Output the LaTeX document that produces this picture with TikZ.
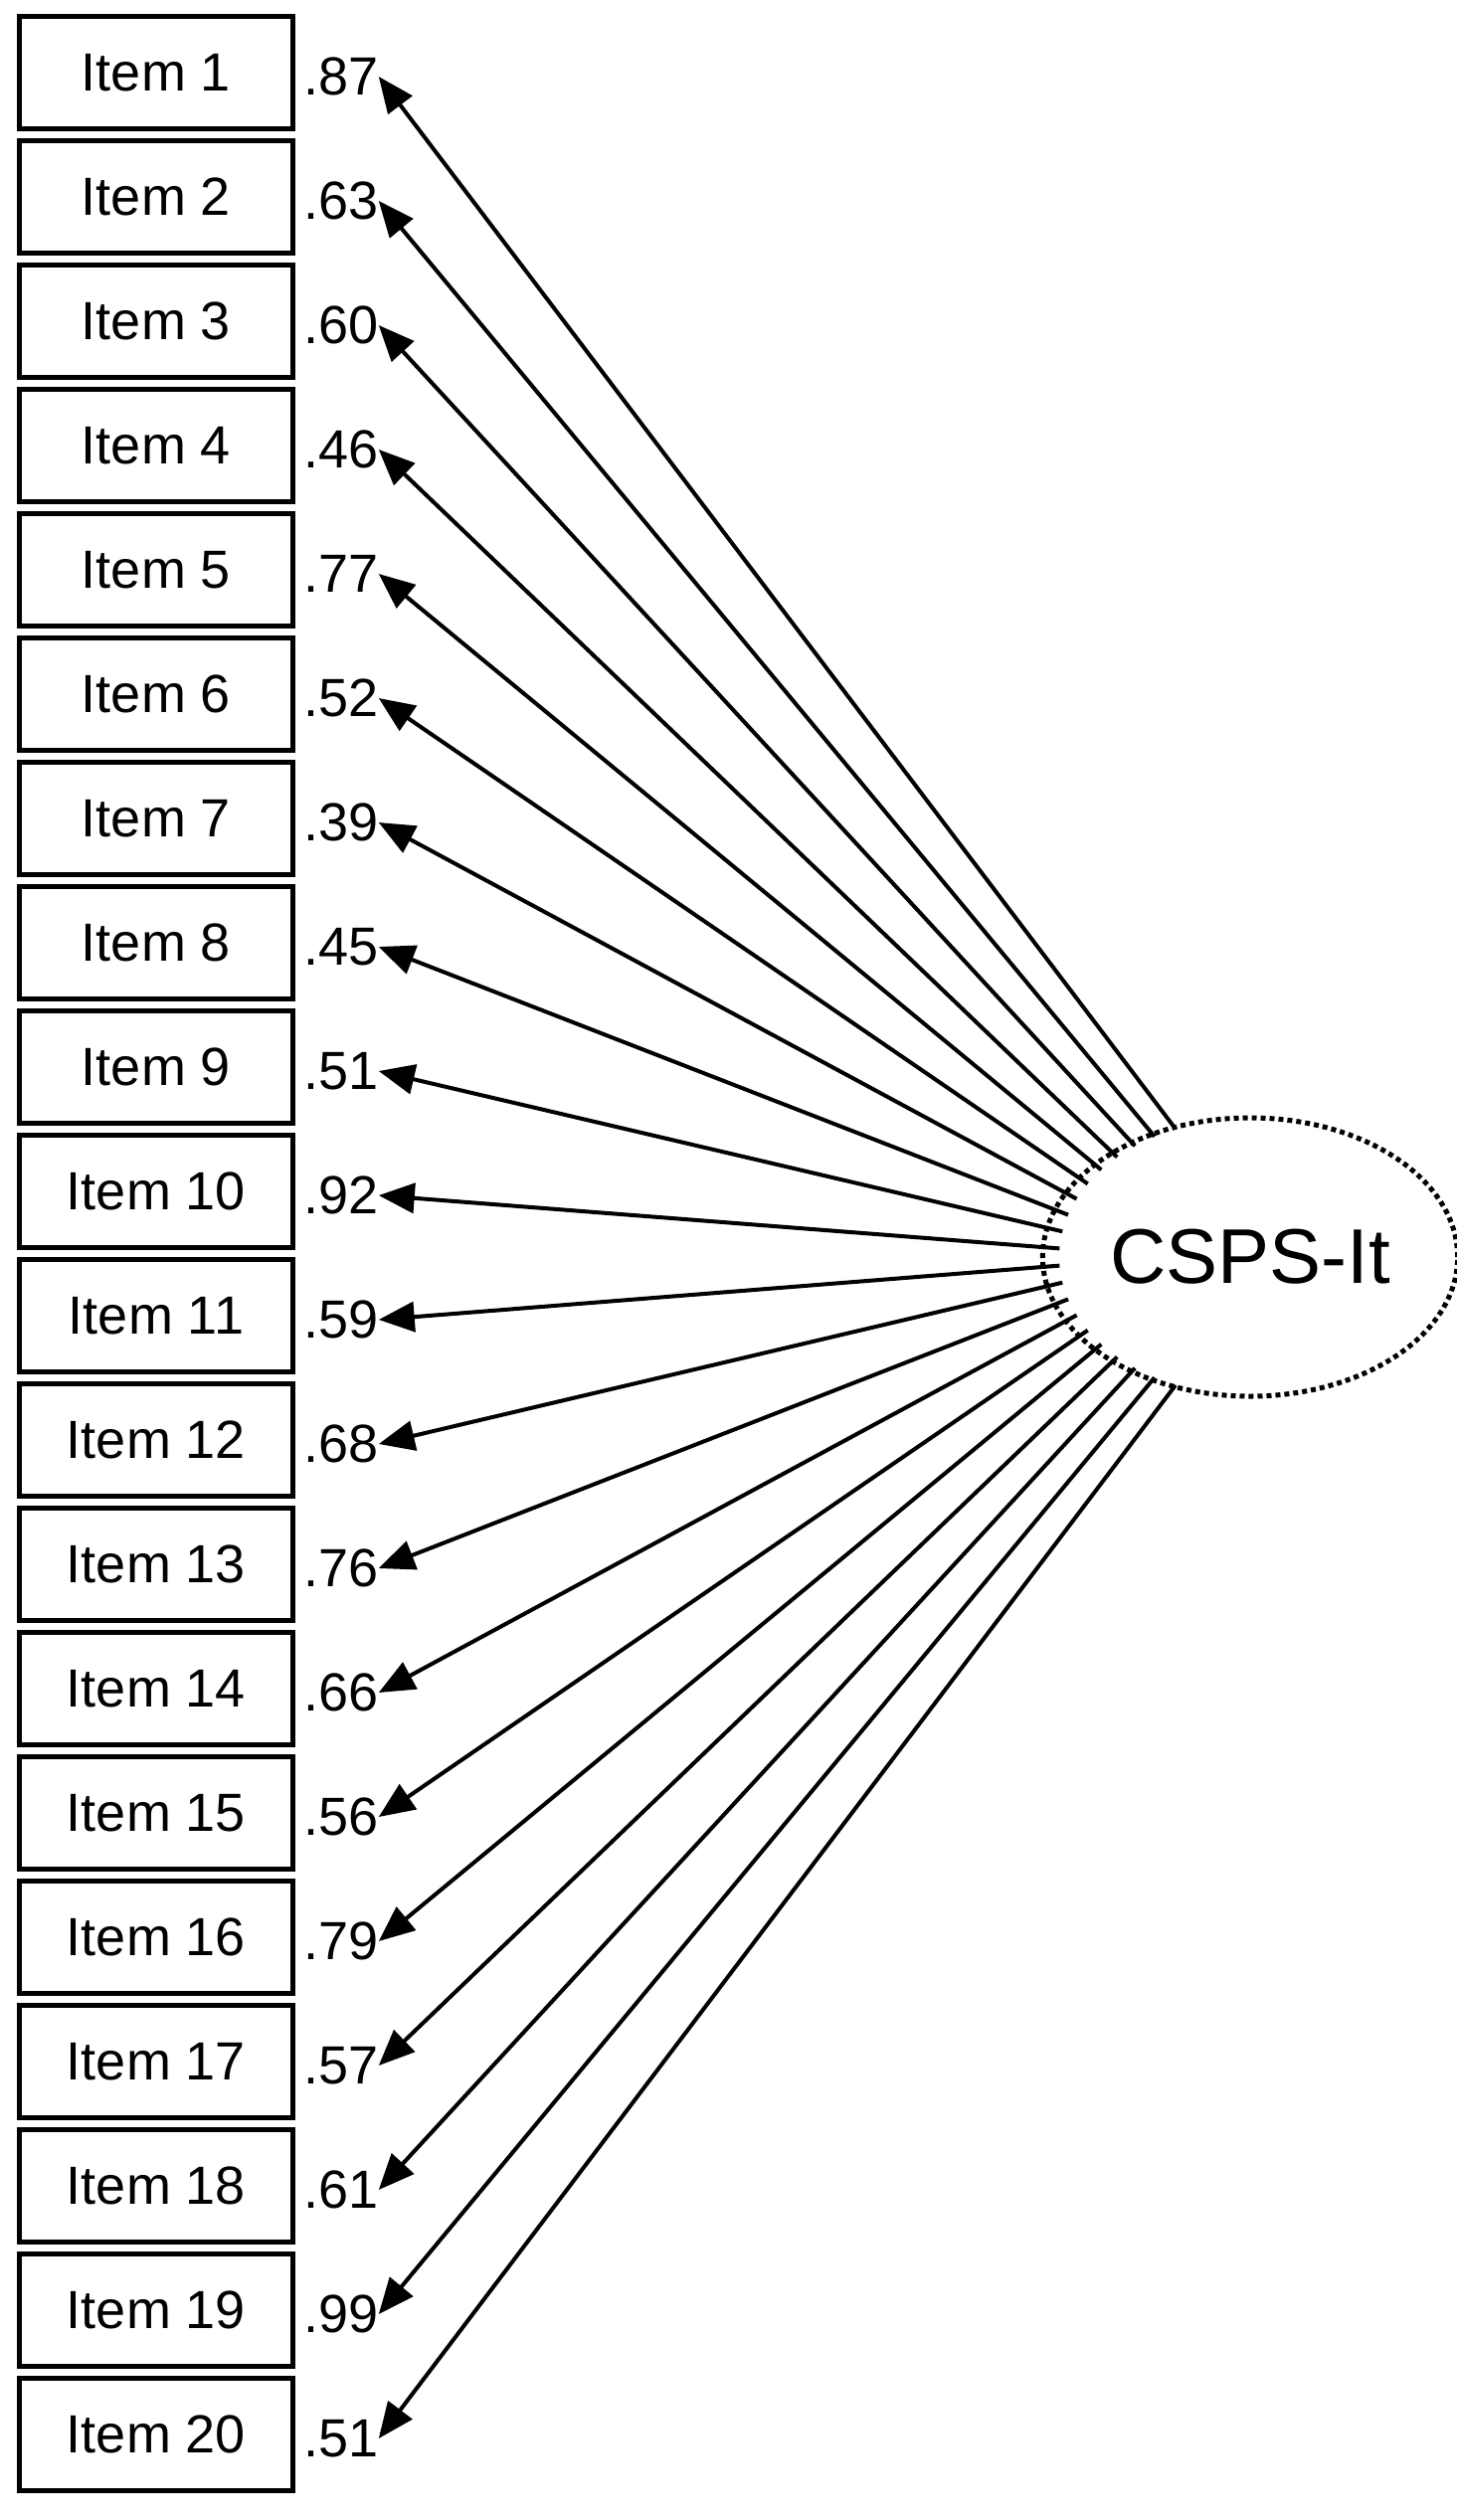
\documentclass[tikz,border=0pt]{standalone}
\usepackage{fontspec}
\setmainfont{Liberation Sans}
\usetikzlibrary{positioning,arrows.meta,shapes.geometric,calc}

\begin{document}
\begin{tikzpicture}[x=1pt,y=1pt,
    item/.style={draw,line width=2.4pt,minimum width=137.5pt,minimum height=56.5pt,inner sep=0pt,font=\fontsize{27}{30}\selectfont},
    load/.style={inner sep=0pt,anchor=west,font=\fontsize{27}{30}\selectfont},
    latent/.style={draw,ellipse,dotted,line width=2.5pt,minimum width=192pt,minimum height=140pt,font=\fontsize{39}{44}\selectfont},
    loading/.style={-{Triangle[length=18pt,width=15pt]},line width=2pt}]
    \useasboundingbox (0,0) rectangle (732.5,-1267);
    \node[latent] (csps) at (628.5,-632) {CSPS-It};
    \foreach \i/\v in {1/.87,2/.63,3/.60,4/.46,5/.77,6/.52,7/.39,8/.45,9/.51,10/.92,
                       11/.59,12/.68,13/.76,14/.66,15/.56,16/.79,17/.57,18/.61,19/.99,20/.51} {
        \node[item] (item\i) at (78.5,{-36.5-(\i-1)*62.5}) {Item \i};
        \node[load] (load\i) [right=4pt of item\i.east, yshift=-2pt] {\v};
        \pgfmathsetmacro\a{113+(\i-1)*134/19}
        \coordinate (start\i) at ($(csps.center)+({96*cos(\a)},{70*sin(\a)})$);
        \draw[loading] (start\i) -- (load\i.east);
    }
\end{tikzpicture}
\end{document}
